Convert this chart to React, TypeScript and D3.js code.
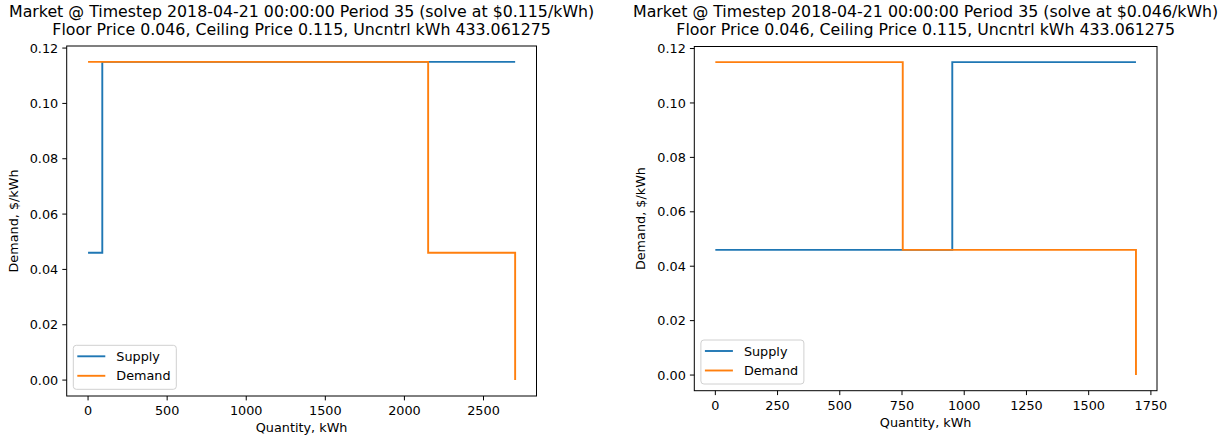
import React from "react";
import * as d3 from "d3";

// step points (matplotlib step where="post")
const leftSupplyQty = [0, 90, 2700];
const leftSupplyPrice = [0.046, 0.115, 0.115];
const leftDemandQty = [0, 2150, 2700];
const leftDemandPrice = [0.115, 0.046, 0];

const rightSupplyQty = [0, 952, 1690];
const rightSupplyPrice = [0.046, 0.115, 0.115];
const rightDemandQty = [0, 753, 1690];
const rightDemandPrice = [0.115, 0.046, 0];

const leftXTicks = [0, 500, 1000, 1500, 2000, 2500];
const rightXTicks = [0, 250, 500, 750, 1000, 1250, 1500, 1750];
const yTicks = [0, 0.02, 0.04, 0.06, 0.08, 0.1, 0.12];

const titleLine2 = "Floor Price 0.046, Ceiling Price 0.115, Uncntrl kWh 433.061275";
const leftTitle = "Market @ Timestep 2018-04-21 00:00:00 Period 35 (solve at $0.115/kWh)";
const rightTitle = "Market @ Timestep 2018-04-21 00:00:00 Period 35 (solve at $0.046/kWh)";

const BLUE = "#1f77b4";
const ORANGE = "#ff7f0e";
const FONT = "DejaVu Sans, sans-serif";
const FS = 12.8;

type PanelProps = {
  left: number; right: number; top: number; bottom: number;
  xMax: number; xTicks: number[]; title: string;
  supply: [number, number][]; demand: [number, number][];
};

function Panel(p: PanelProps) {
  const pad = p.xMax * 0.05;
  const x = d3.scaleLinear().domain([-pad, p.xMax + pad]).range([p.left, p.right]);
  const y = d3.scaleLinear().domain([-0.00575, 0.12075]).range([p.bottom, p.top]);
  const line = d3.line<[number, number]>()
    .x(d => x(d[0]))
    .y(d => y(d[1]))
    .curve(d3.curveStepAfter);
  const fmt = d3.format(".2f");
  const cx = (p.left + p.right) / 2;
  const cy = (p.top + p.bottom) / 2;
  const lx = p.left + 6.6;
  const ly = p.bottom - 6.7 - 44;
  return (
    <g fontFamily={FONT} fill="#000">
      <text x={cx} y={17} fontSize={15.8} textAnchor="middle">{p.title}</text>
      <text x={cx} y={35} fontSize={15.8} textAnchor="middle">{titleLine2}</text>
      <path d={line(p.supply) || ""} fill="none" stroke={BLUE} strokeWidth={1.9} />
      <path d={line(p.demand) || ""} fill="none" stroke={ORANGE} strokeWidth={1.9} />
      <rect x={p.left} y={p.top} width={p.right - p.left} height={p.bottom - p.top}
        fill="none" stroke="#000" strokeWidth={1} />
      {p.xTicks.map(t => (
        <g key={"x" + t}>
          <line x1={x(t)} x2={x(t)} y1={p.bottom} y2={p.bottom + 4.4} stroke="#000" strokeWidth={1} />
          <text x={x(t)} y={p.bottom + 19} fontSize={FS} textAnchor="middle">{t}</text>
        </g>
      ))}
      {yTicks.map(t => (
        <g key={"y" + t}>
          <line x1={p.left - 4.4} x2={p.left} y1={y(t)} y2={y(t)} stroke="#000" strokeWidth={1} />
          <text x={p.left - 8.5} y={y(t) + 4.6} fontSize={FS} textAnchor="end">{fmt(t)}</text>
        </g>
      ))}
      <text x={cx} y={p.bottom + 36} fontSize={FS} textAnchor="middle">Quantity, kWh</text>
      <text transform={`translate(${p.left - 49},${cy}) rotate(-90)`} fontSize={FS}
        textAnchor="middle">Demand, $/kWh</text>
      <rect x={lx} y={ly} width={103} height={44} rx={3} fill="#fff" fillOpacity={0.8}
        stroke="#d0d0d0" strokeWidth={1} />
      <line x1={lx + 4} x2={lx + 32} y1={ly + 11} y2={ly + 11} stroke={BLUE} strokeWidth={1.9} />
      <text x={lx + 43} y={ly + 15.5} fontSize={FS}>Supply</text>
      <line x1={lx + 4} x2={lx + 32} y1={ly + 30.5} y2={ly + 30.5} stroke={ORANGE} strokeWidth={1.9} />
      <text x={lx + 43} y={ly + 35} fontSize={FS}>Demand</text>
    </g>
  );
}

const zip = (a: number[], b: number[]) => a.map((v, i) => [v, b[i]] as [number, number]);

export default function App() {
  return (
    <svg width={1220} height={440} style={{ position: "absolute", left: 0, top: 0, background: "#fff" }}>
      <rect width={1220} height={440} fill="#fff" />
      <Panel left={66.7} right={536.5} top={46} bottom={396} xMax={2700} xTicks={leftXTicks}
        title={leftTitle} supply={zip(leftSupplyQty, leftSupplyPrice)}
        demand={zip(leftDemandQty, leftDemandPrice)} />
      <Panel left={694.3} right={1157} top={46.5} bottom={390.7} xMax={1690} xTicks={rightXTicks}
        title={rightTitle} supply={zip(rightSupplyQty, rightSupplyPrice)}
        demand={zip(rightDemandQty, rightDemandPrice)} />
    </svg>
  );
}
